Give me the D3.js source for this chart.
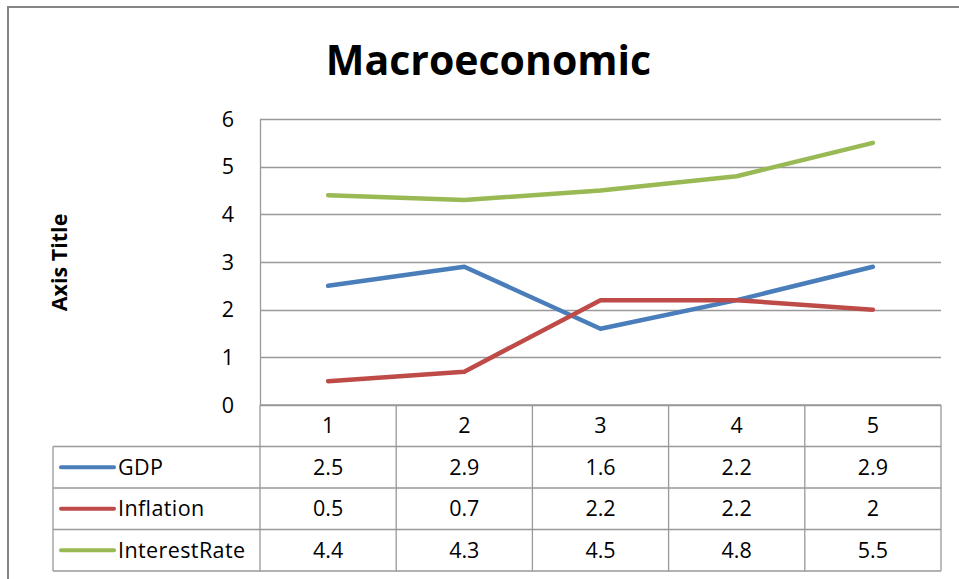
<!DOCTYPE html>
<html><head><meta charset="utf-8">
<script src="https://cdn.jsdelivr.net/npm/d3@7"></script>
<style>body{margin:0;background:#fff}svg{display:block}text{font-family:"Open Sans",sans-serif;fill:#000}</style>
</head><body>
<script>
const title = "Macroeconomic";
const yAxisTitle = "Axis Title";
const categories = ["1","2","3","4","5"];
const seriesNames = ["GDP","Inflation","InterestRate"];
const gdp = [2.5, 2.9, 1.6, 2.2, 2.9];
const inflation = [0.5, 0.7, 2.2, 2.2, 2];
const interestRate = [4.4, 4.3, 4.5, 4.8, 5.5];
const yTicks = [0,1,2,3,4,5,6];
const colors = ["#4A7EBB","#BE4B48","#98B954"];

const series = [gdp, inflation, interestRate].map((v,i)=>({name:seriesNames[i], values:v, color:colors[i]}));

const W=959, H=579;
const svg = d3.select("body").append("svg").attr("width",W).attr("height",H);

const pLeft=260, pRight=941, pTop=119, pBottom=405;
const x = d3.scaleBand().domain(categories).range([pLeft,pRight]).padding(0);
const y = d3.scaleLinear().domain([0,6]).range([pBottom,pTop]);
const gridColor="#999";
const fs = "21.5px";

svg.append("rect").attr("x",8).attr("y",7).attr("width",1000).attr("height",1000)
  .attr("fill","none").attr("stroke","#868686").attr("stroke-width",2);

svg.append("text").attr("x",488.5).attr("y",75).attr("text-anchor","middle")
  .style("font-size","41px").style("font-weight","700").text(title);

svg.append("text").attr("transform","translate(67,262.5) rotate(-90)").attr("text-anchor","middle")
  .style("font-size","21.5px").style("font-weight","700").text(yAxisTitle);

svg.append("g").selectAll("line").data(yTicks).join("line")
  .attr("x1",pLeft).attr("x2",pRight).attr("y1",d=>Math.round(y(d))+0.5).attr("y2",d=>Math.round(y(d))+0.5)
  .attr("stroke",gridColor).attr("stroke-width",1.3);
svg.append("line").attr("x1",pLeft+0.5).attr("x2",pLeft+0.5).attr("y1",pTop).attr("y2",pBottom)
  .attr("stroke",gridColor).attr("stroke-width",1.3);

svg.append("g").selectAll("text").data(yTicks).join("text")
  .attr("x",234).attr("y",d=>y(d)).attr("dy","0.35em").attr("text-anchor","end")
  .style("font-size",fs).text(d=>d);

const rowH = 41.5;
const tableTop = pBottom;
const legendLeft = 53;
const g = svg.append("g");
const rowsY = d3.range(5).map(i=>tableTop+i*rowH);
g.append("line").attr("x1",pLeft).attr("x2",pRight).attr("y1",rowsY[0]).attr("y2",rowsY[0]).attr("stroke",gridColor).attr("stroke-width",1.3);
for(let i=1;i<5;i++){
  g.append("line").attr("x1",legendLeft).attr("x2",pRight).attr("y1",rowsY[i]).attr("y2",rowsY[i]).attr("stroke",gridColor).attr("stroke-width",1.3);
}
g.append("line").attr("x1",legendLeft).attr("x2",legendLeft).attr("y1",rowsY[1]).attr("y2",rowsY[4]).attr("stroke",gridColor).attr("stroke-width",1.3);
categories.concat(["end"]).forEach((c,i)=>{
  const xx = i<categories.length ? x(c) : pRight;
  g.append("line").attr("x1",xx).attr("x2",xx).attr("y1",rowsY[0]).attr("y2",rowsY[4]).attr("stroke",gridColor).attr("stroke-width",1.3);
});
g.selectAll("text.hdr").data(categories).join("text").attr("class","hdr")
  .attr("x",d=>x(d)+x.bandwidth()/2).attr("y",rowsY[0]+rowH/2).attr("dy","0.35em").attr("text-anchor","middle")
  .style("font-size",fs).text(d=>d);
series.forEach((s,i)=>{
  const cy = rowsY[i+1]+rowH/2;
  g.append("line").attr("x1",61).attr("x2",114).attr("y1",cy).attr("y2",cy)
    .attr("stroke",s.color).attr("stroke-width",4).attr("stroke-linecap","round");
  g.append("text").attr("x",118).attr("y",cy).attr("dy","0.35em").style("font-size",fs)
    .style("letter-spacing","0.4px").text(s.name);
  g.selectAll(null).data(s.values).join("text")
    .attr("x",(d,j)=>x(categories[j])+x.bandwidth()/2).attr("y",cy).attr("dy","0.35em").attr("text-anchor","middle")
    .style("font-size",fs).text(d=>d);
});

const line = d3.line().x((d,j)=>x(categories[j])+x.bandwidth()/2).y(d=>y(d));
svg.append("g").selectAll("path").data(series).join("path")
  .attr("d",s=>line(s.values)).attr("fill","none").attr("stroke",s=>s.color)
  .attr("stroke-width",4.5).attr("stroke-linecap","round").attr("stroke-linejoin","round");
</script>
</body></html>
